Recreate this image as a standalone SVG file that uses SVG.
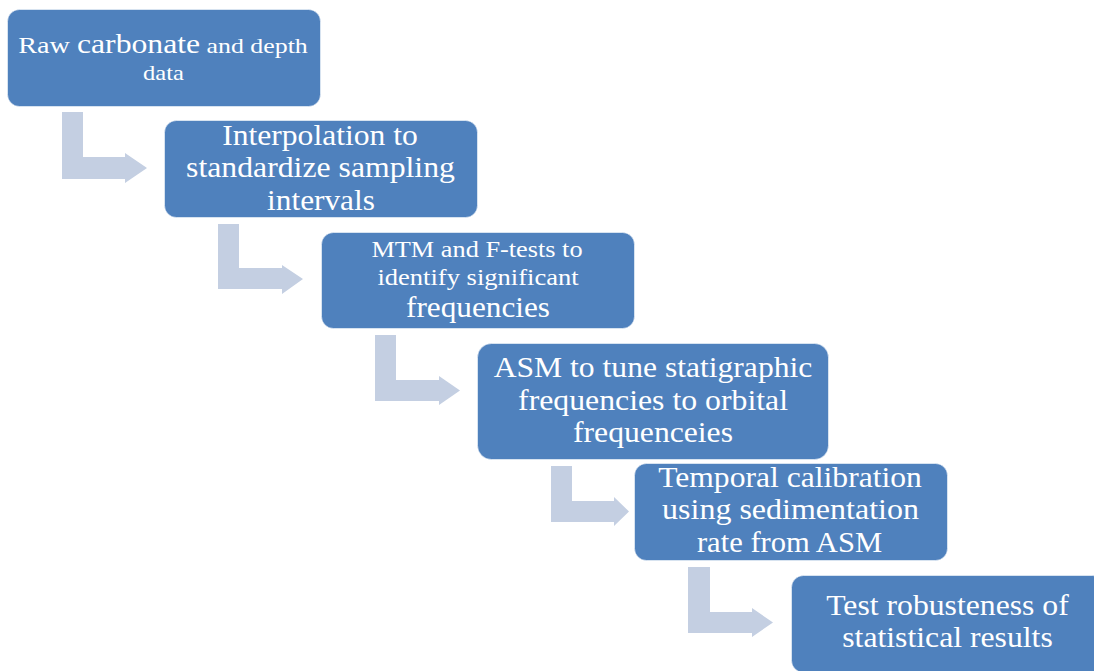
<svg xmlns="http://www.w3.org/2000/svg" width="1094" height="671" viewBox="0 0 1094 671">
<style>
.box{fill:#4f81bd;stroke:#ffffff;stroke-opacity:0.55;stroke-width:1}
.arr{fill:#c4cfe2}
text{font-family:'Liberation Serif','Times New Roman',serif;fill:#ffffff;text-anchor:middle}
.b{font-size:29px}
.s{font-size:22.5px}
</style>
<rect width="1094" height="671" fill="#ffffff"/>
<g id="connectors">
<path class="arr" d="M62,112 H83 V157 H125 V153 L147,168 L125,183 V179 H62 Z"/>
<path class="arr" d="M218,224 H239 V268 H282 V265 L303,279 L282,294 V289 H218 Z"/>
<path class="arr" d="M375,335 H396 V380 H439 V376 L460,390.5 L439,405 V401 H375 Z"/>
<path class="arr" d="M551,466 H572 V501 H614 V497 L629,511.5 L614,526 V522 H551 Z"/>
<path class="arr" d="M688,567 H710 V612 H752 V608 L773,622.5 L752,637 V633 H688 Z"/>
</g>
<g id="node1">
<rect class="box" x="7.5" y="9.5" width="313" height="97" rx="12"/>
<text transform="translate(163,53) scale(1.175,1)"><tspan font-size="24">Raw </tspan><tspan font-size="27">carbonate</tspan><tspan font-size="22"> and depth</tspan></text>
<text transform="translate(163.5,80) scale(1.17,1)" font-size="21">data</text>
</g>
<g id="node2">
<rect class="box" x="164.5" y="120.5" width="313" height="97" rx="12"/>
<text class="b" transform="translate(320,145) scale(1.09,1)">Interpolation to</text>
<text class="b" transform="translate(320.5,177) scale(1.095,1)">standardize sampling</text>
<text class="b" transform="translate(321,210) scale(1.08,1)">intervals</text>
</g>
<g id="node3">
<rect class="box" x="321.5" y="232.5" width="313" height="96" rx="12"/>
<text class="s" transform="translate(477,257) scale(1.17,1)">MTM and F-tests to</text>
<text class="s" transform="translate(478,285) scale(1.18,1)">identify significant</text>
<text class="b" transform="translate(478,317) scale(1.077,1)">frequencies</text>
</g>
<g id="node4">
<rect class="box" x="477.5" y="343.5" width="351" height="116" rx="14"/>
<text class="b" transform="translate(653,377) scale(1.09,1)">ASM to tune statigraphic</text>
<text class="b" transform="translate(653,410) scale(1.096,1)">frequencies to orbital</text>
<text class="b" transform="translate(653,442) scale(1.092,1)">frequenceies</text>
</g>
<g id="node5">
<rect class="box" x="634.5" y="463.5" width="313" height="97" rx="12"/>
<text class="b" transform="translate(790,487) scale(1.09,1)">Temporal calibration</text>
<text class="b" transform="translate(790.5,519) scale(1.104,1)">using sedimentation</text>
<text class="b" transform="translate(789.5,552) scale(1.055,1)">rate from ASM</text>
</g>
<g id="node6">
<rect class="box" x="791.5" y="575.5" width="313" height="97" rx="12"/>
<text class="b" transform="translate(947.5,615) scale(1.094,1)">Test robusteness of</text>
<text class="b" transform="translate(947.5,647) scale(1.094,1)">statistical results</text>
</g>
</svg>
